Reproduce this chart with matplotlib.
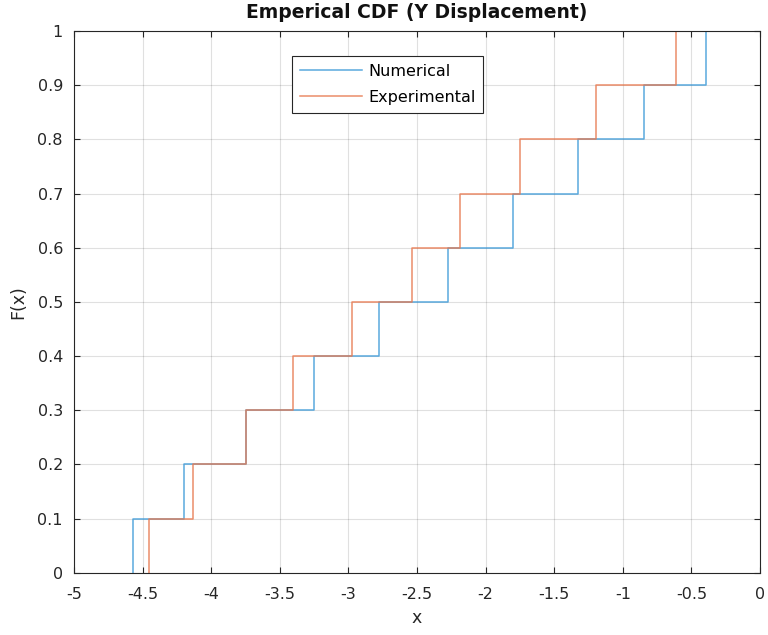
import matplotlib as mpl
import matplotlib.pyplot as plt
import numpy as np

mpl.rcParams.update({"font.family": ["DejaVu Sans"]})

# sorted samples of the two series (10 each)
numerical = [-4.567, -4.196, -3.747, -3.254, -2.776, -2.273, -1.797, -1.324, -0.846, -0.392]
experimental = [-4.456, -4.135, -3.747, -3.407, -2.975, -2.540, -2.188, -1.751, -1.197, -0.615]
labels = ["Numerical", "Experimental"]
colors = ["#3d9ad8", "#e8794f"]

xticks = np.arange(-5, 0.01, 0.5)
yticks = np.arange(0, 1.01, 0.1)
AX = "#262626"


def ecdf(vals):
    v = np.sort(np.asarray(vals))
    xs = np.concatenate([[v[0]], v])
    fs = np.arange(len(v) + 1) / len(v)
    return xs, fs


fig = plt.figure(figsize=(7.68, 6.35), dpi=100)
ax = fig.add_axes([0.0964, 0.0981, 0.8932, 0.8531])

for vals, lab, c in zip([numerical, experimental], labels, colors):
    xs, fs = ecdf(vals)
    ax.step(xs, fs, where="post", color=c, lw=1.1, alpha=0.85, label=lab)

ax.set_xlim(-5, 0)
ax.set_ylim(0, 1)
ax.set_xticks(xticks)
ax.set_xticklabels([f"{t:g}" for t in xticks])
ax.set_yticks(yticks)
ax.set_yticklabels([f"{t:g}" for t in np.round(yticks, 1)])
ax.grid(True, color="#000000", alpha=0.12, lw=0.8)
ax.tick_params(direction="in", top=True, right=True, length=4, width=0.8,
               colors=AX, labelsize=11.5)
ax.tick_params(axis="x", pad=10.5)
ax.tick_params(axis="y", pad=8)
for s in ax.spines.values():
    s.set_color(AX)
    s.set_linewidth(0.8)

ax.set_title("Emperical CDF (Y Displacement)", fontsize=13.5, fontweight="bold",
             color="#111111", pad=9)
ax.set_xlabel("x", fontsize=12.5, color=AX, labelpad=5)
ax.set_ylabel("F(x)", fontsize=12.5, color=AX, labelpad=7)

leg = ax.legend(loc="upper left", bbox_to_anchor=(0.318, 0.954), fontsize=11.5,
                fancybox=False, framealpha=1, edgecolor=AX, borderpad=0.5,
                handlelength=3.9, handletextpad=0.35, labelspacing=0.7,
                borderaxespad=0)
leg.get_frame().set_linewidth(0.8)

fig.savefig("out.png", dpi=100)
